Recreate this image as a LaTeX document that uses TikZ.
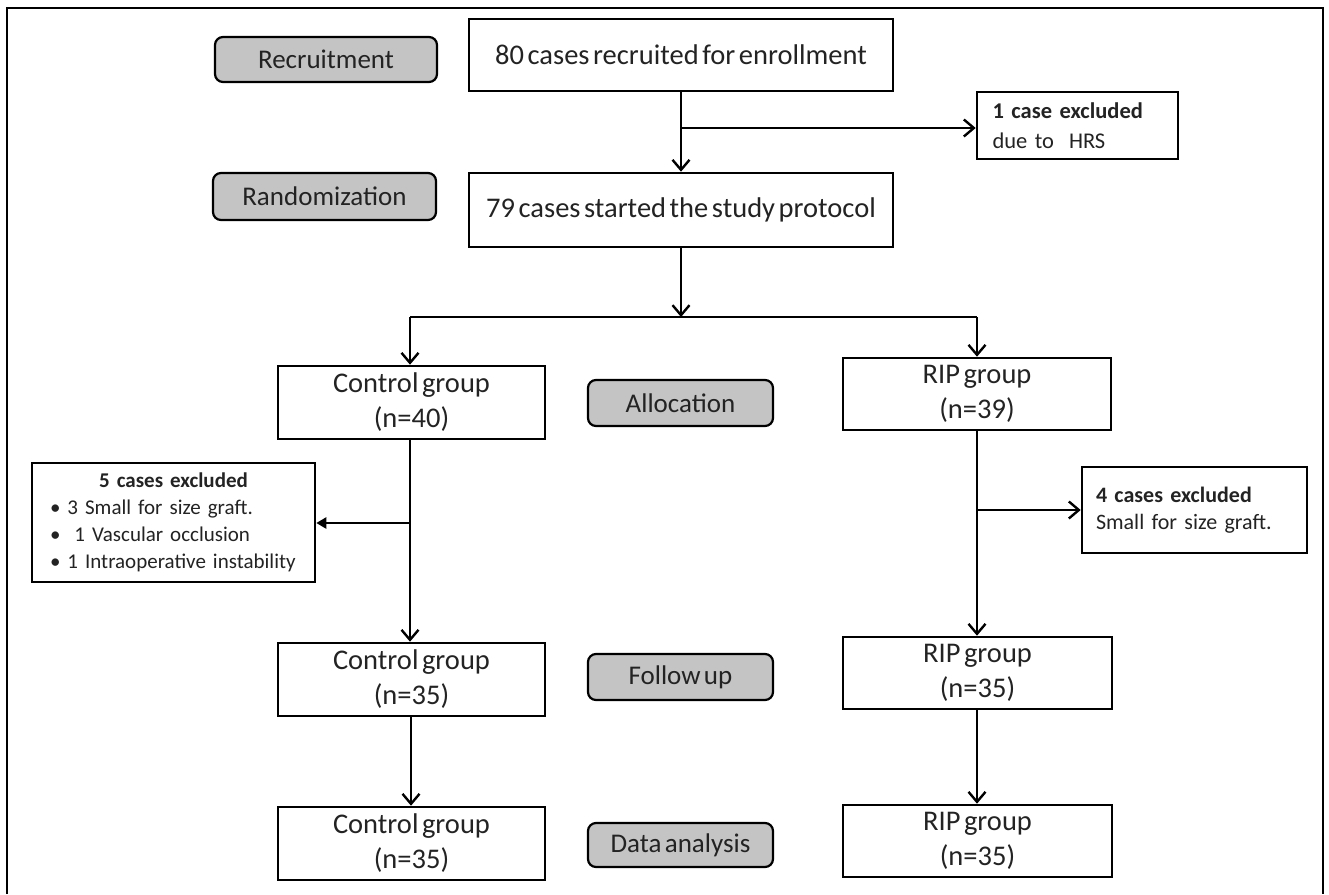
\documentclass[tikz,border=0pt]{standalone}
\usepackage{fontspec}
\setmainfont{Carlito}[WordSpace=0.55]
\usetikzlibrary{arrows.meta}
\definecolor{stagegray}{RGB}{196,196,196}
\definecolor{txt}{RGB}{35,35,35}
\tikzset{
  box/.style={draw=black, line width=2.6pt, fill=white, inner sep=0pt, align=center, text=txt,
    font=\fontsize{28.5}{35}\selectfont},
  stage/.style={draw=black, line width=2.2pt, fill=stagegray, rounded corners=8pt, inner sep=0pt,
    align=center, text=txt, font=\fontsize{27}{30}\selectfont,
    minimum width=185pt, minimum height=46pt},
  exbox/.style={draw=black, line width=2.6pt, fill=white, inner sep=0pt, text=txt},
  arr/.style={line width=2.4pt, -{Straight Barb[length=10pt,width=17pt,line width=2.4pt]}},
  tarr/.style={line width=2.4pt, -{Triangle[length=10pt,width=11pt]}},
  ln/.style={line width=2.4pt},
}
\begin{document}
\begin{tikzpicture}[x=1pt,y=-1pt]
\useasboundingbox (0,0) rectangle (1329,894);
% frame
\coordinate (fbl) at (7,894);
\coordinate (ftl) at (7,8);
\coordinate (ftr) at (1323,8);
\coordinate (fbr) at (1323,894);
\draw[line width=2pt] (fbl) -- (ftl) -- (ftr) -- (fbr);

% stage labels
\node[stage, minimum width=222pt, minimum height=45pt] (rec) at (326,59.5) {Recruitment};
\node[stage, minimum width=223pt, minimum height=47pt] (rand) at (324.5,196.5) {Randomization};
\node[stage] (alloc) at (680.5,403) {Allocation};
\node[stage] (follow) at (680.5,677) {Follow up};
\node[stage, minimum height=44pt] (data) at (680.5,845) {Data analysis};

% main boxes
\node[box, minimum width=424pt, minimum height=72pt] (n80) at (681,55) {80 cases recruited for enrollment};
\node[box, minimum width=424pt, minimum height=74pt] (n79) at (681,210) {79 cases started the study protocol};
\node[box, minimum width=267pt, minimum height=73pt] (ctl40) at (411.5,402.5) {Control group\\(n=40)};
\node[box, minimum width=268pt, minimum height=72pt] (rip39) at (977,394) {RIP group\\(n=39)};
\node[box, minimum width=267pt, minimum height=73pt] (ctl35a) at (411.5,679.5) {Control group\\(n=35)};
\node[box, minimum width=269pt, minimum height=72pt] (rip35a) at (977.5,673) {RIP group\\(n=35)};
\node[box, minimum width=267pt, minimum height=73pt] (ctl35b) at (411.5,843.5) {Control group\\(n=35)};
\node[box, minimum width=269pt, minimum height=72pt] (rip35b) at (977.5,841) {RIP group\\(n=35)};

% exclusion boxes
\node[exbox, minimum width=201pt, minimum height=67pt, align=left, text width=170pt,
  font=\fontsize{22.5}{30}\selectfont] (ex1) at (1077.5,125.5)
  {\textbf{1 case excluded}\\due to\ \ HRS};
\node[exbox, minimum width=283pt, minimum height=119pt, align=left, text width=263pt,
  font=\fontsize{21}{27}\selectfont] (ex5) at (173.5,522.5)
  {\makebox[263pt][c]{\textbf{5 cases excluded}}\\
   \mbox{\hspace*{8pt}\textbullet\ 3 Small for size graft.}\\
   \mbox{\hspace*{8pt}\textbullet\ \ 1 Vascular occlusion}\\
   \mbox{\hspace*{8pt}\textbullet\ 1 Intraoperative instability}};
\node[exbox, minimum width=225pt, minimum height=86pt, align=left, text width=197pt,
  font=\fontsize{22}{27}\selectfont] (ex4) at (1194.5,510)
  {\textbf{4 cases excluded}\\Small for size graft.};

% connectors
\coordinate (b1) at (681,128);
\draw[arr] (n80) -- (n79);
\draw[arr] (b1) -- (b1 -| ex1.west);

\coordinate (split) at (681,317);
\coordinate (splitL) at (410,317);
\coordinate (splitR) at (977,317);
\draw[arr] (n79) -- (split);
\draw[ln] (splitL) -- (splitR);
\draw[arr] (splitL) -- (splitL |- ctl40.north);
\draw[arr] (splitR) -- (rip39.north);

\coordinate (b5) at (410,523);
\draw[arr] (ctl40.south -| b5) -- (ctl35a.north -| b5);
\draw[tarr] (b5) -- (b5 -| ex5.east);

\coordinate (b4) at (977,510);
\draw[arr] (rip39.south) -- (rip35a.north -| rip39.south);
\draw[arr] (b4) -- (b4 -| ex4.west);

\coordinate (c1) at (411,716);
\coordinate (r1) at (977,709);
\draw[arr] (c1) -- (c1 |- ctl35b.north);
\draw[arr] (r1) -- (r1 |- rip35b.north);
\end{tikzpicture}
\end{document}
